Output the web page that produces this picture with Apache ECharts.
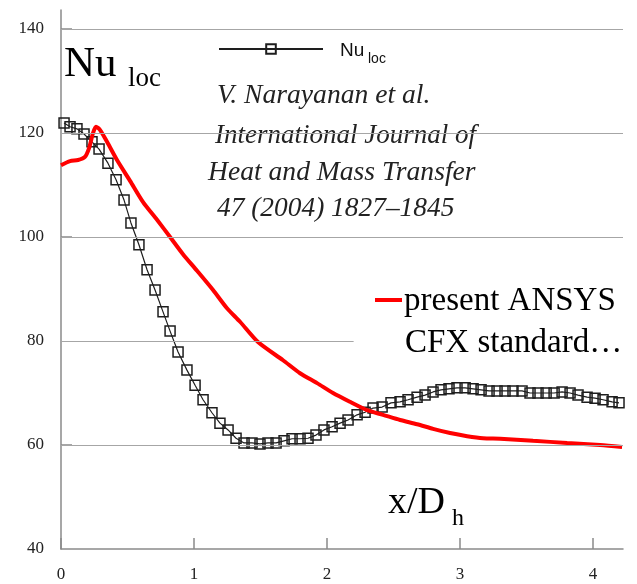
<!DOCTYPE html>
<html>
<head>
<meta charset="utf-8">
<script src="https://cdn.jsdelivr.net/npm/echarts@6/dist/echarts.min.js"></script>
<style>
html,body{margin:0;padding:0;background:#fff;}
#c{width:637px;height:584px;}
</style>
</head>
<body>
<div id="c"></div>
<script>
// ---- data ----
var nuLocX = [0.023,0.068,0.120,0.173,0.233,0.286,0.353,0.414,0.474,0.526,0.586,0.647,0.707,0.767,0.820,0.880,0.947,1.008,1.068,1.135,1.195,
  1.256,1.316,1.376,1.436,1.496,1.556,1.617,1.677,1.737,1.797,1.857,1.917,1.977,2.038,2.098,2.158,2.226,2.286,2.346,2.414,
  2.481,2.549,2.609,2.677,2.737,2.797,2.857,2.917,2.977,3.038,3.098,3.158,3.218,3.278,3.338,3.398,3.466,
  3.526,3.586,3.647,3.707,3.767,3.827,3.887,3.955,4.015,4.075,4.143,4.195];
var nuLocY = [121.9,121.2,120.8,119.8,118.3,116.9,114.2,111.0,107.1,102.7,98.5,93.7,89.8,85.6,81.9,77.9,74.4,71.5,68.7,66.2,64.2,
  62.9,61.3,60.4,60.4,60.2,60.4,60.4,60.8,61.2,61.2,61.3,61.9,62.9,63.5,64.2,64.8,65.8,66.3,67.1,67.3,
  68.1,68.3,68.7,69.2,69.6,70.2,70.6,70.8,71.0,71.0,70.8,70.6,70.4,70.4,70.4,70.4,70.4,
  70.0,70.0,70.0,70.0,70.2,70.0,69.6,69.2,69.0,68.7,68.3,68.1];
var cfxX = [0.000,0.068,0.128,0.180,0.211,0.241,0.263,0.293,0.346,0.421,0.519,0.617,0.722,0.820,0.917,1.023,1.143,1.248,1.346,1.481,
  1.669,1.797,1.925,2.045,2.173,2.301,2.421,2.549,2.677,2.797,2.925,3.053,3.173,3.301,3.549,3.805,4.053,4.218];
var cfxY = [113.8,114.6,114.8,115.4,117.1,120.0,121.2,120.6,118.3,114.8,110.8,106.7,103.3,100.0,96.7,93.5,89.8,86.3,83.7,79.8,
  76.3,73.8,71.9,70.0,68.3,66.7,65.8,64.8,64.0,63.1,62.3,61.7,61.3,61.2,60.8,60.4,60.0,59.6];
var xTicks = [0,1,2,3,4];
var yTicks = [40,60,80,100,120,140];
var yTickMarks = [60,100,140];
var gridFullY = [60,100,120,140];
var gridPartialY = 80, gridPartialXEnd = 2.2;
var xMin = 0, xMax = 4.225, yMin = 40, yMax = 143.65;

function zip(a, b){ var r=[]; for (var i=0;i<a.length;i++) r.push([a[i], b[i]]); return r; }

var chart = echarts.init(document.getElementById('c'), null, {renderer:'canvas'});
var serif = '"Liberation Serif", "Times New Roman", serif';
var sans = '"Liberation Sans", Arial, sans-serif';
var axisGray = '#8a8a8a';

var gridLines = gridFullY.map(function(v){ return {yAxis: v}; });
gridLines.push([{coord:[xMin, gridPartialY]},{coord:[gridPartialXEnd, gridPartialY]}]);

chart.setOption({
  animation:false,
  backgroundColor:'#fff',
  grid:{left:61, right:14, top:10, bottom:35, containLabel:false, outerBoundsMode:'none'},
  xAxis:{
    type:'value', min:xMin, max:xMax,
    axisLine:{show:true, lineStyle:{color:axisGray, width:1.5}},
    axisTick:{show:true, inside:true, length:11, customValues:xTicks, lineStyle:{color:axisGray, width:1.5}},
    axisLabel:{customValues:xTicks, margin:17, color:'#222', fontSize:17, fontFamily:serif},
    splitLine:{show:false}
  },
  yAxis:{
    type:'value', min:yMin, max:yMax,
    axisLine:{show:true, lineStyle:{color:axisGray, width:1.5}},
    axisTick:{show:true, inside:true, length:11, customValues:yTickMarks, lineStyle:{color:axisGray, width:1.5}},
    axisLabel:{customValues:yTicks, margin:17, color:'#222', fontSize:17, fontFamily:serif, padding:[4,0,0,0]},
    splitLine:{show:false}
  },
  legend:[
    {data:['Nu_loc'], left:218, top:43, itemWidth:104, itemHeight:12, formatter:function(){return '';}, selectedMode:false, padding:0},
    {data:[{name:'CFX', icon:'rect'}], left:375, top:298, itemWidth:27, itemHeight:4, formatter:function(){return '';}, selectedMode:false, padding:0,
      itemStyle:{color:'#ff0000', borderWidth:0}}
  ],
  series:[
    {
      name:'grid', type:'line', data:[], z:1, silent:true,
      markLine:{silent:true, symbol:['none','none'], label:{show:false},
        lineStyle:{color:'#a6a6a6', width:1, type:'solid'}, data:gridLines}
    },
    {
      name:'Nu_loc', type:'line', data:zip(nuLocX, nuLocY), z:3,
      symbol:'rect', symbolSize:10, showAllSymbol:true,
      lineStyle:{color:'#1e1e1e', width:1.2},
      itemStyle:{color:'rgba(255,255,255,0)', borderColor:'#1e1e1e', borderWidth:1.5}
    },
    {
      name:'CFX', type:'line', data:zip(cfxX, cfxY), z:4,
      symbol:'none', smooth:0.25,
      lineStyle:{color:'#ff0000', width:4},
      itemStyle:{color:'#ff0000'}
    }
  ],
  graphic:[
    {type:'text', x:64, y:43, style:{text:'Nu', font:'43px '+serif, fill:'#000', verticalAlign:'top'}},
    {type:'text', x:128, y:65, style:{text:'loc', font:'27px '+serif, fill:'#000', verticalAlign:'top'}},
    {type:'text', x:340, y:41, style:{text:'Nu', font:'19px '+sans, fill:'#111', verticalAlign:'top'}},
    {type:'text', x:368, y:52, style:{text:'loc', font:'14px '+sans, fill:'#111', verticalAlign:'top'}},
    {type:'text', x:217, y:82, style:{text:'V. Narayanan et al.', font:'italic 27.6px '+serif, fill:'#222', verticalAlign:'top'}},
    {type:'text', x:215, y:122, style:{text:'International Journal of', font:'italic 27px '+serif, fill:'#222', verticalAlign:'top'}},
    {type:'text', x:208, y:159, style:{text:'Heat and Mass Transfer', font:'italic 27.6px '+serif, fill:'#222', verticalAlign:'top'}},
    {type:'text', x:217, y:195, style:{text:'47 (2004) 1827\u20131845', font:'italic 27.4px '+serif, fill:'#222', verticalAlign:'top'}},
    {type:'text', x:404, y:285, style:{text:'present ANSYS', font:'33px '+serif, fill:'#000', verticalAlign:'top'}},
    {type:'text', x:405, y:327, style:{text:'CFX standard\u2026', font:'33px '+serif, fill:'#000', verticalAlign:'top'}},
    {type:'text', x:388, y:484, style:{text:'x/D', font:'38px '+serif, fill:'#000', verticalAlign:'top'}},
    {type:'text', x:452, y:507, style:{text:'h', font:'24px '+serif, fill:'#000', verticalAlign:'top'}}
  ]
});
</script>
</body>
</html>
